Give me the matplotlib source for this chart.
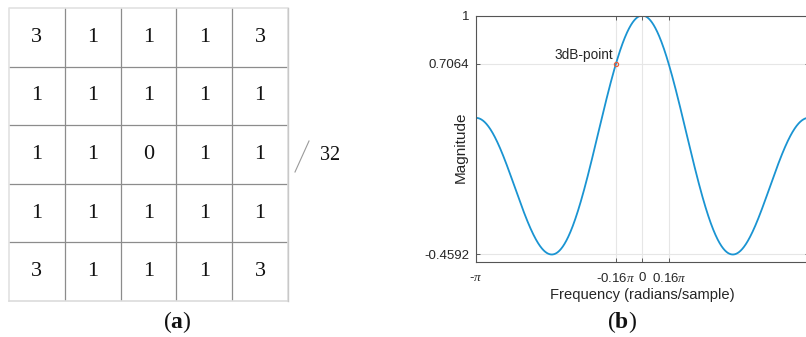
import numpy as np
import matplotlib
matplotlib.use("Agg")
import matplotlib.pyplot as plt

plt.rcParams['font.family'] = ['Liberation Sans', 'DejaVu Sans']
plt.rcParams['mathtext.fontset'] = 'custom'
plt.rcParams['mathtext.rm'] = 'Liberation Serif'
plt.rcParams['mathtext.it'] = 'Liberation Serif:italic'
plt.rcParams['mathtext.bf'] = 'Liberation Serif:bold'

# ---- data ----
kernel = [[3, 1, 1, 1, 3],
          [1, 1, 1, 1, 1],
          [1, 1, 0, 1, 1],
          [1, 1, 1, 1, 1],
          [3, 1, 1, 1, 3]]
divisor = 32
ytick_vals = [-0.4592, 0.7064, 1.0]
ytick_labels = ['-0.4592', '0.7064', '1']
xtick_vals_pi = [-1.0, -0.16, 0.0, 0.16]
xtick_labels = [r'-$\pi$', r'-0.16$\pi$', '0', r'0.16$\pi$']
point_freq_pi = -0.16
point_mag = 0.7064
point_label = '3dB-point'

W, H = 806, 337
fig = plt.figure(figsize=(W / 100, H / 100), dpi=100)

def rect(x0, y0, x1, y1):
    return [x0 / W, 1 - y1 / H, (x1 - x0) / W, (y1 - y0) / H]

# ---- panel (a): kernel grid ----
axa = fig.add_axes(rect(9, 8, 288, 301))
k = np.array(kernel)
n = k.shape[0]
axa.set_xlim(0, n)
axa.set_ylim(n, 0)
axa.axis('off')
for i in range(1, n):
    axa.axvline(i, color='#8c8c8c', lw=0.9)
    axa.axhline(i, color='#8c8c8c', lw=0.9)
axa.plot([0, 0, n, n], [n, 0, 0, n], color='#e2e2e2', lw=1.2, clip_on=False)
axa.plot([0, n], [n, n], color='#dcdcdc', lw=1.2, clip_on=False)
axa.plot([n, n], [0, n], color='#c8c8c8', lw=1.0, clip_on=False)
for r in range(n):
    for c in range(n):
        axa.text(c + 0.5, r + 0.5, str(k[r, c]), ha='center', va='center',
                 fontsize=16, family='Liberation Serif', color='#111111')

fig.add_artist(plt.Line2D([295 / W, 309 / W], [1 - 172 / H, 1 - 141 / H],
                          color='#9a9a9a', lw=0.8))
fig.text(330 / W, 1 - 156 / H, f'{divisor}', ha='center', va='center',
         fontsize=14.5, family='Liberation Serif', color='#111111')
fig.text(177 / W, 1 - 322 / H, r'($\mathbf{a}$)', ha='center', va='center',
         fontsize=17, family='Liberation Serif', color='#111111')

# ---- panel (b): frequency response along one axis ----
axb = fig.add_axes(rect(476, 15.5, 808.6, 262))
w = np.linspace(-np.pi, np.pi, 1201)
offs = np.arange(n) - n // 2
colsum = k.sum(axis=0)
resp = np.array([np.sum(colsum * np.cos(wi * offs)) for wi in w]) / divisor
axb.plot(w, resp, color='#1a94d2', lw=1.3)
axb.set_xlim(-np.pi, np.pi)
axb.set_ylim(-0.505, 1.0)
axb.set_xticks([v * np.pi for v in xtick_vals_pi])
axb.set_xticklabels(xtick_labels)
axb.set_yticks(ytick_vals)
axb.set_yticklabels(ytick_labels)
axb.grid(True, color='#e6e6e6', lw=0.8)
axb.set_axisbelow(True)
axb.tick_params(direction='in', length=3, width=0.6, colors='#444444',
                labelcolor='#262626', labelsize=9.5, top=True, right=True)
axb.tick_params(axis='x', pad=7)
axb.tick_params(axis='y', pad=5)
for s in axb.spines.values():
    s.set_color('#555555')
    s.set_linewidth(0.8)
axb.set_xlabel('Frequency (radians/sample)', fontsize=10.6, color='#262626', labelpad=2)
axb.set_ylabel('Magnitude', fontsize=11, color='#262626')
axb.yaxis.set_label_coords(-0.024, 0.467)
axb.plot([point_freq_pi * np.pi], [point_mag], 'o', ms=3, mfc='none',
         mec='#e8603c', mew=0.9)
axb.annotate(point_label, (point_freq_pi * np.pi, point_mag),
             xytext=(-2, 0.8), textcoords='offset points', ha='right', va='bottom',
             fontsize=9.8, color='#262626')
fig.text(622 / W, 1 - 322 / H, r'($\mathbf{b}$)', ha='center', va='center',
         fontsize=17, family='Liberation Serif', color='#111111')

fig.savefig('out.png', dpi=100)
